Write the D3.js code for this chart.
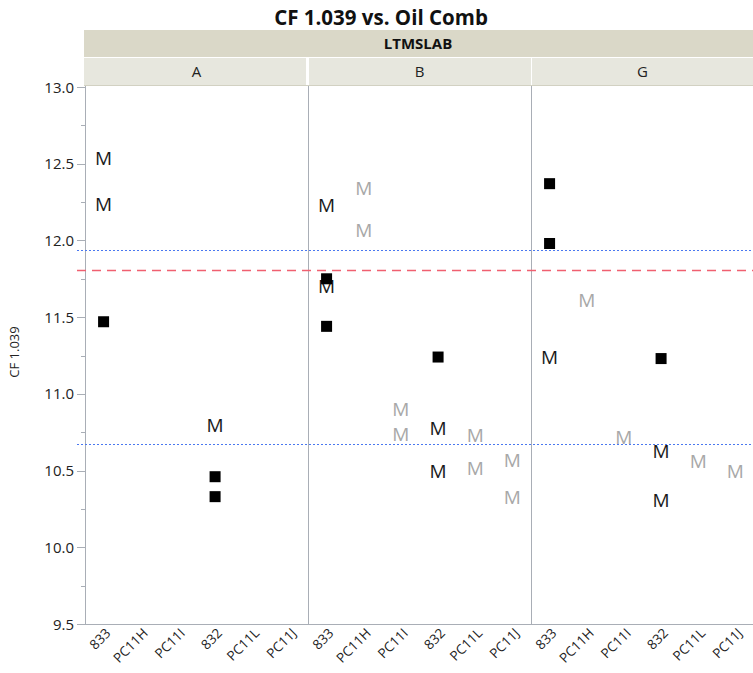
<!DOCTYPE html>
<html>
<head>
<meta charset="utf-8">
<script src="https://cdn.jsdelivr.net/npm/d3@7"></script>
<style>
  body { margin: 0; background: #fff; }
  svg { font-family: "Open Sans", sans-serif; }
</style>
</head>
<body>
<svg id="chart" width="753" height="673"></svg>
<script>
// groups
var labs = ["A", "B", "G"];
var oils = ["833", "PC11H", "PC11I", "832", "PC11L", "PC11J"];

// [lab, oil, value]
var squares = [
  ["A", "833", 11.47], ["A", "832", 10.46], ["A", "832", 10.33],
  ["B", "833", 11.75], ["B", "833", 11.44], ["B", "832", 11.24],
  ["G", "833", 12.37], ["G", "833", 11.98], ["G", "832", 11.23]
];
var darkM = [
  ["A", "833", 12.54], ["A", "833", 12.24], ["A", "832", 10.80],
  ["B", "833", 12.23], ["B", "833", 11.70], ["B", "832", 10.78], ["B", "832", 10.50],
  ["G", "833", 11.24], ["G", "832", 10.63], ["G", "832", 10.31]
];
var grayM = [
  ["B", "PC11H", 12.34], ["B", "PC11H", 12.07],
  ["B", "PC11I", 10.90], ["B", "PC11I", 10.74],
  ["B", "PC11L", 10.73], ["B", "PC11L", 10.52],
  ["B", "PC11J", 10.57], ["B", "PC11J", 10.33],
  ["G", "PC11H", 11.61], ["G", "PC11I", 10.72],
  ["G", "PC11L", 10.56], ["G", "PC11J", 10.50]
];

var upperLimit = 11.94, centerLine = 11.81, lowerLimit = 10.67;
var yTicks = [9.5, 10.0, 10.5, 11.0, 11.5, 12.0, 12.5, 13.0];

var svg = d3.select("#chart"),
  plotLeft = 85, plotTop = 86, plotBottom = 624, panelW = 223;

var panel = d3.scaleBand().domain(labs).range([plotLeft, plotLeft + panelW * labs.length]);
var xin = d3.scaleBand().domain(oils).range([0, panelW]);
var y = d3.scaleLinear().domain([9.5, 13.0]).range([plotBottom, plotTop + 1]);

function px(d) { return panel(d[0]) + xin(d[1]) + xin.bandwidth() / 2; }
function py(v) { return Math.round(y(v)) + 0.5; }

// title + header strips
svg.append("text").attr("x", 381).attr("y", 25).attr("text-anchor", "middle")
  .attr("font-size", 20.5).attr("font-weight", "bold").attr("fill", "#111")
  .text("CF 1.039 vs. Oil Comb");

svg.append("rect").attr("x", plotLeft - 1).attr("y", 30).attr("width", 753 - plotLeft + 1).attr("height", 27)
  .attr("fill", "#dad8c8");
svg.append("text").attr("x", 418).attr("y", 49).attr("text-anchor", "middle")
  .attr("font-size", 15).attr("font-weight", "bold").attr("fill", "#111").text("LTMSLAB");

labs.forEach(function (l) {
  svg.append("rect").attr("x", panel(l) + (l === labs[0] ? -1 : 1)).attr("y", 58)
    .attr("width", panelW - 1).attr("height", 27).attr("fill", "#e7e7de");
  svg.append("text").attr("x", panel(l) + panelW / 2).attr("y", 77).attr("text-anchor", "middle")
    .attr("font-size", 15).attr("fill", "#222").text(l);
});
svg.append("line").attr("x1", plotLeft - 1).attr("x2", 753).attr("y1", 85.5).attr("y2", 85.5)
  .attr("stroke", "#d2d1c2");

// y axis
var minor = d3.range(9.75, 13, 0.5);
svg.selectAll(".minor").data(minor).enter().append("line")
  .attr("x1", plotLeft - 4).attr("x2", plotLeft).attr("y1", py).attr("y2", py).attr("stroke", "#a9aeb6");
svg.selectAll(".major").data(yTicks).enter().append("line")
  .attr("x1", plotLeft - 8).attr("x2", plotLeft).attr("y1", py).attr("y2", py).attr("stroke", "#a9aeb6");
svg.selectAll(".ylab").data(yTicks).enter().append("text")
  .attr("x", plotLeft - 11).attr("y", function (d) { return y(d) + 5.5; })
  .attr("text-anchor", "end").attr("font-size", 15).attr("fill", "#222")
  .text(d3.format(".1f"));

svg.append("text").attr("transform", "translate(19,352) rotate(-90)")
  .attr("text-anchor", "middle").attr("font-size", 13).attr("fill", "#222").text("CF 1.039");

// frame lines
svg.append("line").attr("x1", plotLeft - 8).attr("x2", 753).attr("y1", plotBottom + 0.5).attr("y2", plotBottom + 0.5)
  .attr("stroke", "#a9aeb6");
labs.forEach(function (l) {
  svg.append("line").attr("x1", panel(l) + 0.5).attr("x2", panel(l) + 0.5)
    .attr("y1", plotTop).attr("y2", plotBottom).attr("stroke", "#a9aeb6");
});

// reference lines
[upperLimit, lowerLimit].forEach(function (v) {
  svg.append("line").attr("x1", plotLeft - 8).attr("x2", 753)
    .attr("y1", py(v)).attr("y2", py(v))
    .attr("stroke", "#4a78f0").attr("stroke-dasharray", "2,2");
});
svg.append("line").attr("x1", plotLeft - 8).attr("x2", 753)
  .attr("y1", py(centerLine)).attr("y2", py(centerLine))
  .attr("stroke", "#f06070").attr("stroke-width", 1.5).attr("stroke-dasharray", "9,6");

// x labels
labs.forEach(function (l) {
  svg.selectAll(null).data(oils).enter().append("text")
    .attr("transform", function (d) {
      return "translate(" + (panel(l) + xin(d) + xin.bandwidth() / 2 + 8) + "," + (plotBottom + 10) + ") rotate(-45)";
    })
    .attr("text-anchor", "end").attr("font-size", 13.5).attr("fill", "#222")
    .text(function (d) { return d; });
});

// points
svg.selectAll(".gm").data(grayM).enter().append("text")
  .attr("x", px).attr("y", function (d) { return y(d[2]) + 7; })
  .attr("text-anchor", "middle").attr("font-size", 19).attr("fill", "#a8a8a8").text("M");
svg.selectAll(".dm").data(darkM).enter().append("text")
  .attr("x", px).attr("y", function (d) { return y(d[2]) + 7; })
  .attr("text-anchor", "middle").attr("font-size", 19).attr("fill", "#1a1a1a").text("M");
svg.selectAll(".sq").data(squares).enter().append("rect")
  .attr("x", function (d) { return px(d) - 5.5; }).attr("y", function (d) { return y(d[2]) - 5.5; })
  .attr("width", 11).attr("height", 11).attr("fill", "#000");
</script>
</body>
</html>
